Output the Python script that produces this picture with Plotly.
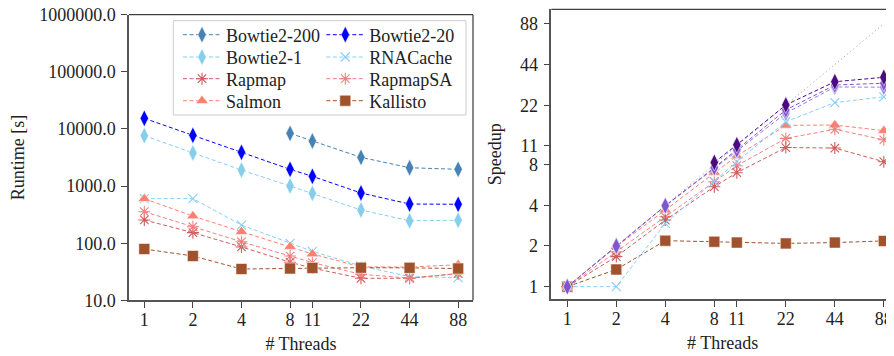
import math
import plotly.graph_objects as go

threads = [1, 2, 4, 8, 11, 22, 44, 88]
tick_labels = ["1", "2", "4", "8", "11", "22", "44", "88"]

# Runtime [s]
rt_bowtie2_200 = [None, None, None, 8380, 6150, 3185, 2095, 1965]
rt_bowtie2_20 = [15350, 7730, 3900, 1965, 1482, 757, 485, 480]
rt_bowtie2_1 = [7620, 3790, 1910, 1003, 747, 381, 247, 252]
rt_rnacache = [603, 603, 208, 99.5, 72, 40, 25.9, 25]
rt_rapmap = [255, 153, 86, 46.4, 36.6, 24.3, 24.3, 29.5]
rt_rapmapsa = [356, 194, 106, 59.5, 45.6, 28.5, 24.4, 29.2]
rt_salmon = [600, 299, 159, 87, 64.7, 38.5, 38.2, 42]
rt_kallisto = [79, 59.7, 35.3, 36, 36.8, 37.2, 37, 36]

# Speedup
sp_bowtie2_200 = [None, None, None, 8.3, 11.2, 22.1, 32.8, 35.4]
sp_bowtie2_20 = [1, 2.0, 3.97, 7.6, 10.3, 20.3, 31.0, 32.0]
sp_bowtie2_1 = [1, 2.0, 3.95, 7.5, 10.1, 19.2, 30.0, 29.9]
sp_rnacache = [1, 1.0, 2.94, 6.0, 8.4, 16.6, 23.0, 25.4]
sp_rapmap = [1, 1.67, 3.11, 5.49, 6.97, 10.7, 10.6, 8.4]
sp_rapmapsa = [1, 1.81, 3.29, 5.98, 7.85, 12.5, 14.6, 12.2]
sp_salmon = [1, 1.98, 3.69, 7.0, 9.26, 15.6, 15.7, 14.25]
sp_kallisto = [1, 1.34, 2.19, 2.15, 2.12, 2.09, 2.12, 2.18]
ideal_x = [1, 88]
ideal_y = [1, 88]

rt_ticks = [10, 100, 1000, 10000, 100000, 1000000]
rt_tick_labels = ["10.0", "100.0", "1000.0", "10000.0", "100000.0", "1000000.0"]

# page body has an 8px margin: the figure is laid out in window pixels minus 8
OFF = 8
W, H = 894 - OFF, 356 - OFF
FONT = "Liberation Serif"
FS = 18
TXT = "#222222"
DASH = "4px,2.5px"


def px(xw):
    return (xw - OFF) / W


def py(yw):
    return 1 - (yw - OFF) / H


series = [
    # name, runtime, speedup, left colour, right colour, symbol, size, legend id, legend column, row
    ("Bowtie2-200", rt_bowtie2_200, sp_bowtie2_200, "#4682B4", "#4B0A82", "diamond-tall", 12, "legend", 0, 0),
    ("Bowtie2-20", rt_bowtie2_20, sp_bowtie2_20, "#0000FF", "#7E57CF", "diamond-tall", 12, "legend2", 1, 0),
    ("Bowtie2-1", rt_bowtie2_1, sp_bowtie2_1, "#87CEEB", "#9A7BE0", "diamond-tall", 12, "legend3", 0, 1),
    ("RNACache", rt_rnacache, sp_rnacache, "#87CEFA", "#87CEFA", "x-thin-open", 9, "legend4", 1, 1),
    ("Rapmap", rt_rapmap, sp_rapmap, "#CD5C5C", "#CD5C5C", "asterisk-open", 10, "legend5", 0, 2),
    ("RapmapSA", rt_rapmapsa, sp_rapmapsa, "#F08080", "#F08080", "asterisk-open", 10, "legend6", 1, 2),
    ("Salmon", rt_salmon, sp_salmon, "#FA8072", "#FA8072", "triangle-up", 11, "legend7", 0, 3),
    ("Kallisto", rt_kallisto, sp_kallisto, "#A0522D", "#A0522D", "square", 11, "legend8", 1, 3),
]

legend_col_x = [178, 321.3]
legend_row_y = [35, 57.3, 79, 101]

fig = go.Figure()


def marker(sym, size, color):
    if sym.endswith("-open"):
        return dict(symbol=sym, size=size, color=color, line=dict(width=1.1, color=color))
    return dict(symbol=sym, size=size, color=color, line=dict(width=1, color="rgba(255,255,255,0.55)"))


legends = {}
for name, rt, sp, c1, c2, sym, size, leg, col, row in series:
    fig.add_trace(go.Scatter(
        x=threads, y=rt, name=name, mode="lines+markers", legend=leg,
        line=dict(color=c1, width=1, dash=DASH), marker=marker(sym, size, c1),
        xaxis="x", yaxis="y", connectgaps=False))
    legends[leg] = dict(x=px(legend_col_x[col]), y=py(legend_row_y[row]),
                        xanchor="left", yanchor="middle",
                        bgcolor="rgba(0,0,0,0)", borderwidth=0, itemwidth=38,
                        font=dict(family=FONT, size=FS, color=TXT))

fig.add_trace(go.Scatter(x=ideal_x, y=ideal_y, mode="lines", showlegend=False,
                         line=dict(color="#999999", width=1, dash="1px,3px"),
                         xaxis="x2", yaxis="y2"))
for name, rt, sp, c1, c2, sym, size, leg, col, row in reversed(series):
    fig.add_trace(go.Scatter(
        x=threads, y=sp, name=name, mode="lines+markers", showlegend=False,
        line=dict(color=c2, width=1, dash=DASH), marker=marker(sym, size, c2),
        xaxis="x2", yaxis="y2"))

l2 = math.log10(2)
axis_common = dict(type="log", showgrid=False, zeroline=False, showline=True,
                   automargin=False, ticklabeloverflow="allow",
                   linecolor="#555555", linewidth=1.5, ticks="outside", ticklen=6,
                   tickwidth=1, tickcolor="#444444",
                   tickfont=dict(family=FONT, size=FS, color=TXT),
                   title_font=dict(family=FONT, size=FS, color=TXT))

fig.update_layout(
    width=W, height=H, margin=dict(l=0, r=0, t=0, b=0, autoexpand=False),
    paper_bgcolor="white", plot_bgcolor="white",
    font=dict(family=FONT, size=FS, color=TXT),
    xaxis=dict(axis_common, domain=[px(129), px(473)], anchor="y",
               range=[-0.315 * l2, 6.765 * l2],
               tickvals=threads, ticktext=tick_labels, ticklabelstandoff=-4,
               title=dict(text="# Threads", standoff=9)),
    yaxis=dict(axis_common, domain=[py(300.3), py(14.7)], anchor="x",
               range=[1, 6.0005], tickvals=rt_ticks, ticktext=rt_tick_labels,
               ticklabelstandoff=2,
               title=dict(text="Runtime [s]", standoff=22)),
    xaxis2=dict(axis_common, domain=[px(551.3), 1.0], anchor="y2",
                range=[-0.3265 * l2, 6.667 * l2],
                tickvals=threads, ticktext=tick_labels, ticklabelstandoff=-4,
                title=dict(text="# Threads", standoff=9)),
    yaxis2=dict(axis_common, domain=[py(299.3), py(9.3)], anchor="x2",
                range=[-0.31 * l2, 6.816 * l2],
                tickvals=threads, ticktext=tick_labels,
                ticklabelstandoff=2,
                title=dict(text="Speedup", standoff=14)),
    shapes=[
        # legend frame
        dict(type="rect", xref="paper", yref="paper",
             x0=px(173.3), x1=px(466), y0=py(115), y1=py(20.7),
             line=dict(color="#CCCCCC", width=1), fillcolor="rgba(255,255,255,0.8)",
             layer="above"),
        # top/right frame of left panel
        dict(type="line", xref="x domain", yref="y domain", x0=0, x1=1, y0=1, y1=1,
             line=dict(color="#111111", width=1)),
        dict(type="line", xref="x domain", yref="y domain", x0=1, x1=1, y0=0, y1=1,
             line=dict(color="#111111", width=1)),
        # top frame of right panel
        dict(type="line", xref="x2 domain", yref="y2 domain", x0=0, x1=1, y0=1, y1=1,
             line=dict(color="#111111", width=1)),
    ],
)
fig.update_layout(**legends)

fig.write_html("out.html")
